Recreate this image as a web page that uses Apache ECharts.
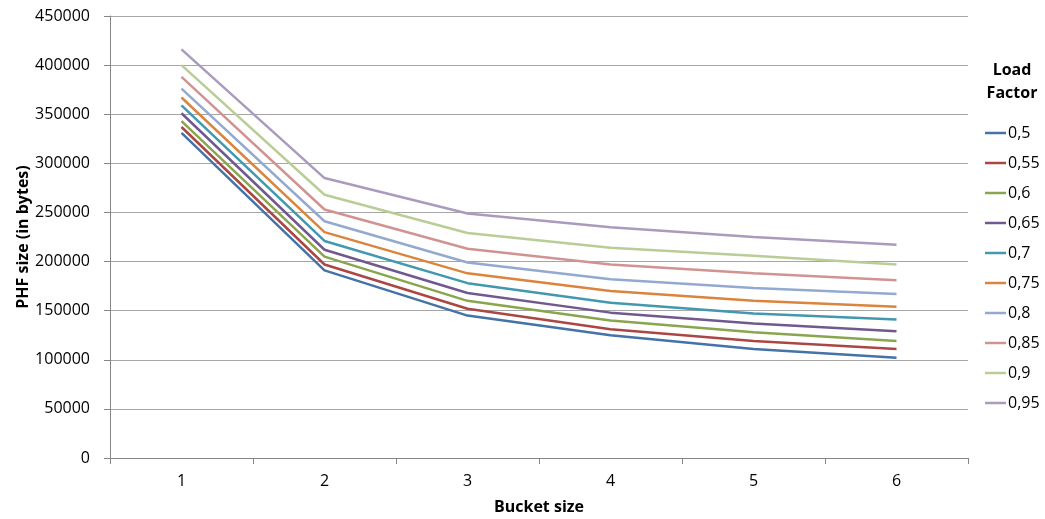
<!DOCTYPE html>
<html><head><meta charset="utf-8">
<script src="https://cdn.jsdelivr.net/npm/echarts@6/dist/echarts.min.js"></script>
<style>html,body{margin:0;padding:0;background:#fff}#c{width:1045px;height:519px}</style>
</head><body><div id="c"></div>
<script>
const categories = ['1','2','3','4','5','6'];
const loadFactors = ['0,5','0,55','0,6','0,65','0,7','0,75','0,8','0,85','0,9','0,95'];
const lf050 = [331000, 191000, 145000, 125000, 111000, 102000];
const lf055 = [337000, 197000, 152000, 131000, 119000, 111000];
const lf060 = [343000, 205000, 160000, 140000, 128000, 119000];
const lf065 = [351000, 212000, 168000, 148000, 137000, 129000];
const lf070 = [359000, 221000, 178000, 158000, 147000, 141000];
const lf075 = [367000, 230000, 188000, 170000, 160000, 154000];
const lf080 = [376000, 241000, 199000, 182000, 173000, 167000];
const lf085 = [388000, 253000, 213000, 197000, 188000, 181000];
const lf090 = [400000, 268000, 229000, 214000, 206000, 197000];
const lf095 = [416000, 285000, 249000, 235000, 225000, 217000];
const seriesValues = [lf050, lf055, lf060, lf065, lf070, lf075, lf080, lf085, lf090, lf095];
const colors = ['#4572A7','#AA4643','#89A54E','#71588F','#4198AF','#DB843D','#93A9CF','#D19392','#B9CD96','#A99BBD'];
const FONT = 'Open Sans';
const chart = echarts.init(document.getElementById('c'));
chart.setOption({
  animation: false,
  color: colors,
  textStyle: {fontFamily: FONT},
  grid: {left: 110, right: 77, top: 16, bottom: 61, containLabel: false, outerBoundsMode: 'none'},
  xAxis: {
    type: 'category', data: categories, boundaryGap: true,
    name: 'Bucket size', nameLocation: 'middle', nameGap: 41,
    nameTextStyle: {fontWeight: 'bold', fontSize: 16, color: '#000', fontFamily: FONT},
    axisLine: {lineStyle: {color: '#868686'}},
    axisTick: {show: true, length: 6, alignWithLabel: false, lineStyle: {color: '#868686'}},
    axisLabel: {fontSize: 16, color: '#000', margin: 15, fontFamily: FONT}
  },
  yAxis: {
    type: 'value', min: 0, max: 450000, interval: 50000,
    name: 'PHF size (in bytes)', nameLocation: 'middle', nameGap: 79, nameMoveOverlap: false,
    nameTextStyle: {fontWeight: 'bold', fontSize: 16, color: '#000', fontFamily: FONT},
    axisLine: {show: true, lineStyle: {color: '#868686'}},
    axisTick: {show: true, length: 6, lineStyle: {color: '#868686'}},
    axisLabel: {fontSize: 16, color: '#000', margin: 20, fontFamily: FONT, formatter: v => String(v)},
    splitLine: {lineStyle: {color: '#A6A6A6'}}
  },
  legend: {
    orient: 'vertical', left: 985, top: 125, padding: 0,
    itemWidth: 21, itemHeight: 14, itemGap: 14,
    icon: 'path://M0,6 L21,6 L21,8.5 L0,8.5 Z',
    textStyle: {fontSize: 16, color: '#000', fontFamily: FONT, padding: [0,0,0,-3]},
    data: loadFactors
  },
  graphic: [
    {type: 'text', x: 1012, y: 70, style: {text: 'Load', fontSize: 16, fontWeight: 'bold', fill: '#000', fontFamily: FONT, align: 'center', verticalAlign: 'middle'}},
    {type: 'text', x: 1012, y: 93, style: {text: 'Factor', fontSize: 16, fontWeight: 'bold', fill: '#000', fontFamily: FONT, align: 'center', verticalAlign: 'middle'}}
  ],
  series: seriesValues.map((vals, i) => ({
    name: loadFactors[i], type: 'line', data: vals,
    symbol: 'none', lineStyle: {width: 2.5, color: colors[i]}, itemStyle: {color: colors[i]}
  }))
});
</script></body></html>
